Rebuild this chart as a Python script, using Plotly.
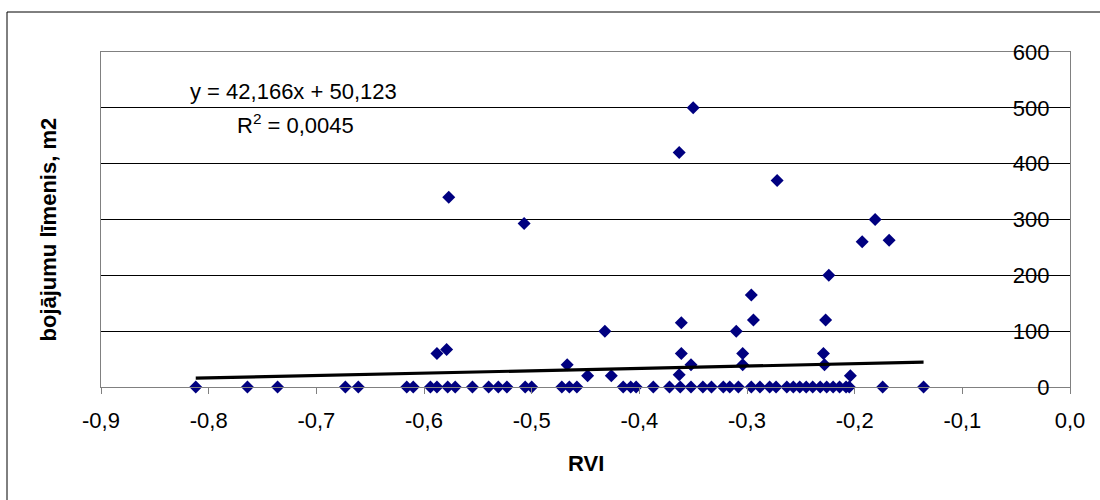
import plotly.graph_objects as go

# RVI values and damage level (m2) for each observation
rvi = [
    -0.812, -0.764, -0.736, -0.673, -0.661, -0.616, -0.610, -0.594, -0.588,
    -0.578, -0.571, -0.555, -0.540, -0.531, -0.523, -0.506, -0.500, -0.472,
    -0.465, -0.458, -0.415, -0.408, -0.403, -0.387, -0.372, -0.362, -0.352,
    -0.341, -0.333, -0.322, -0.316, -0.308, -0.296, -0.288, -0.279, -0.273,
    -0.263, -0.257, -0.251, -0.245, -0.239, -0.232, -0.226, -0.220, -0.214,
    -0.208, -0.205, -0.174, -0.136,
    -0.588, -0.579, -0.577, -0.507, -0.467, -0.448, -0.432, -0.426, -0.363,
    -0.350, -0.363, -0.361, -0.361, -0.352, -0.310, -0.304, -0.304, -0.296,
    -0.294, -0.272, -0.229, -0.228, -0.227, -0.224, -0.204, -0.193, -0.181,
    -0.168,
]
damage = [
    0, 0, 0, 0, 0, 0, 0, 0, 0,
    0, 0, 0, 0, 0, 0, 0, 0, 0,
    0, 0, 0, 0, 0, 0, 0, 0, 0,
    0, 0, 0, 0, 0, 0, 0, 0, 0,
    0, 0, 0, 0, 0, 0, 0, 0, 0,
    0, 0, 0, 0,
    60, 67, 340, 293, 40, 20, 100, 20, 420,
    500, 22, 60, 115, 40, 100, 60, 40, 165,
    120, 370, 60, 40, 120, 200, 20, 260, 300,
    263,
]

# Linear trend fitted to the data
slope = 42.166
intercept = 50.123
r_squared = 0.0045

x_tick_values = [-0.9, -0.8, -0.7, -0.6, -0.5, -0.4, -0.3, -0.2, -0.1, 0.0]
x_tick_labels = ["-0,9", "-0,8", "-0,7", "-0,6", "-0,5", "-0,4", "-0,3", "-0,2", "-0,1", "0,0"]
y_tick_values = [0, 100, 200, 300, 400, 500, 600]
y_tick_labels = ["0", "100", "200", "300", "400", "500", "600"]


def comma(v, digits):
    return f"{v:.{digits}f}".replace(".", ",")


FONT = "Liberation Sans, Arial, sans-serif"

trend_x = [min(rvi), max(rvi)]
trend_y = [slope * v + intercept for v in trend_x]

fig = go.Figure()
fig.add_trace(go.Scatter(
    x=rvi, y=damage, mode="markers",
    marker=dict(symbol="diamond", size=10, color="#000080", line=dict(width=0)),
    cliponaxis=False, showlegend=False,
))
fig.add_trace(go.Scatter(
    x=trend_x, y=trend_y, mode="lines",
    line=dict(color="black", width=3.2),
    cliponaxis=False, showlegend=False,
))

fig.update_layout(
    width=1100, height=500,
    margin=dict(l=101, r=30, t=52, b=113),
    paper_bgcolor="white", plot_bgcolor="white",
    font=dict(family=FONT, size=22, color="black"),
    showlegend=False,
    xaxis=dict(
        range=[-0.9, 0.0], tickvals=x_tick_values, ticktext=x_tick_labels,
        ticks="outside", ticklen=6, tickcolor="#808080", tickwidth=1,
        showline=True, linecolor="#808080", linewidth=1, mirror=True,
        showgrid=False, zeroline=False,
        tickfont=dict(family=FONT, size=22, color="black"),
        ticklabelstandoff=8, ticklabeloverflow="allow",
    ),
    yaxis=dict(
        side="right", range=[0, 600], tickvals=y_tick_values, ticktext=y_tick_labels,
        ticklabelposition="inside", ticks="",
        showline=True, linecolor="#808080", linewidth=1, mirror=True,
        showgrid=True, gridcolor="black", gridwidth=1, zeroline=False,
        tickfont=dict(family=FONT, size=22, color="black"),
        ticklabelstandoff=22, ticklabeloverflow="allow",
    ),
    annotations=[
        dict(text=f"y = {comma(slope, 3)}x + {comma(intercept, 3)}",
             x=0.1987, y=0.8806, xref="paper", yref="paper",
             xanchor="center", yanchor="middle", showarrow=False,
             font=dict(family=FONT, size=22, color="black")),
        dict(text=f"R<sup>2</sup> = {comma(r_squared, 4)}",
             x=0.2012, y=0.785, xref="paper", yref="paper",
             xanchor="center", yanchor="middle", showarrow=False,
             font=dict(family=FONT, size=22, color="black")),
        dict(text="<b>bojājumu līmenis, m2</b>",
             x=-0.0542, y=0.4716, xref="paper", yref="paper", textangle=-90,
             xanchor="center", yanchor="middle", showarrow=False,
             font=dict(family=FONT, size=22, color="black")),
        dict(text="<b>RVI</b>",
             x=0.5005, y=-0.2269, xref="paper", yref="paper",
             xanchor="center", yanchor="middle", showarrow=False,
             font=dict(family=FONT, size=22, color="black")),
    ],
    shapes=[
        dict(type="rect", xref="paper", yref="paper",
             x0=(7 - 101) / 969, x1=(1110 - 101) / 969,
             y0=(387 - 510) / 335, y1=(387 - 12) / 335,
             line=dict(color="black", width=1), layer="below"),
    ],
)

fig.write_html("out.html")
